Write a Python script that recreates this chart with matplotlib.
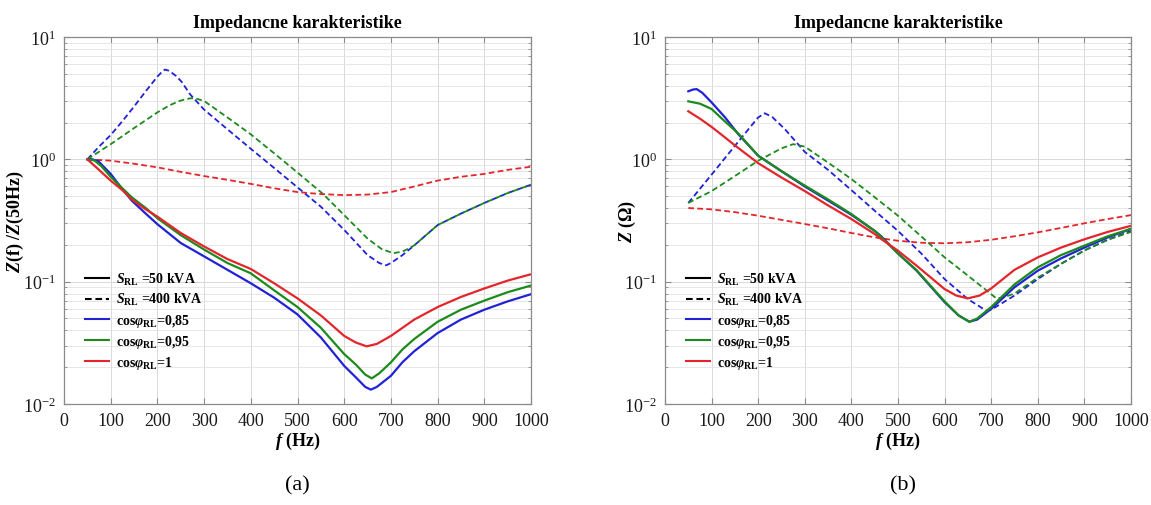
import matplotlib
matplotlib.use("Agg")
import matplotlib.pyplot as plt
from matplotlib.lines import Line2D
from matplotlib.ticker import LogLocator, NullFormatter, FixedLocator

plt.rcParams['font.family'] = ['Liberation Serif', 'DejaVu Serif']
plt.rcParams['mathtext.fontset'] = 'custom'
plt.rcParams['mathtext.rm'] = 'Liberation Serif:bold'
plt.rcParams['mathtext.bf'] = 'Liberation Serif:bold'
plt.rcParams['mathtext.it'] = 'Liberation Serif:italic:bold'
plt.rcParams['axes.unicode_minus'] = False

# ---------------- data : panel (a) normalised impedance ----------------
a_b400_f = [50, 75, 100, 125, 150, 175, 200, 210, 216, 225, 240, 252, 270, 300, 350, 400, 450, 500, 550, 600, 650, 675, 690, 700, 725, 750, 800, 850, 900, 950, 1000]
a_b400_z = [1.0, 1.27, 1.58, 2.05, 2.7, 3.6, 4.75, 5.2, 5.42, 5.3, 4.8, 4.3, 3.4, 2.55, 1.76, 1.22, 0.85, 0.59, 0.41, 0.265, 0.165, 0.142, 0.136, 0.142, 0.165, 0.198, 0.29, 0.36, 0.44, 0.53, 0.62]

a_g400_f = [50, 100, 150, 200, 225, 245, 260, 273, 285, 300, 350, 400, 450, 500, 555, 600, 650, 680, 705, 725, 750, 800, 850, 900, 950, 1000]
a_g400_z = [1.0, 1.33, 1.8, 2.42, 2.75, 2.98, 3.1, 3.16, 3.12, 3.0, 2.2, 1.6, 1.12, 0.78, 0.52, 0.35, 0.225, 0.185, 0.171, 0.176, 0.198, 0.29, 0.36, 0.44, 0.53, 0.62]

a_r400_f = [50, 100, 150, 200, 250, 300, 350, 400, 450, 500, 550, 600, 650, 700, 750, 800, 850, 900, 950, 1000]
a_r400_z = [1.0, 0.975, 0.92, 0.86, 0.79, 0.73, 0.68, 0.63, 0.58, 0.54, 0.52, 0.51, 0.515, 0.54, 0.6, 0.67, 0.72, 0.76, 0.82, 0.87]

a_b50_f = [50, 60, 73, 85, 100, 125, 145, 175, 200, 250, 300, 350, 400, 450, 500, 550, 600, 625, 645, 657, 670, 700, 725, 750, 800, 850, 900, 950, 1000]
a_b50_z = [1.0, 1.0, 0.97, 0.87, 0.76, 0.57, 0.46, 0.36, 0.295, 0.207, 0.161, 0.125, 0.097, 0.074, 0.054, 0.035, 0.0205, 0.0165, 0.0138, 0.0131, 0.0138, 0.017, 0.022, 0.027, 0.038, 0.049, 0.059, 0.069, 0.079]

a_g50_f = [50, 65, 80, 100, 125, 145, 175, 200, 250, 300, 350, 400, 450, 500, 550, 600, 625, 645, 659, 675, 700, 725, 750, 800, 850, 900, 950, 1000]
a_g50_z = [1.0, 0.98, 0.88, 0.72, 0.58, 0.49, 0.4, 0.33, 0.24, 0.183, 0.142, 0.117, 0.085, 0.062, 0.042, 0.0256, 0.021, 0.0174, 0.0162, 0.0178, 0.0219, 0.028, 0.034, 0.047, 0.059, 0.07, 0.082, 0.093]

a_r50_f = [50, 75, 100, 125, 145, 175, 200, 250, 300, 350, 400, 450, 500, 550, 600, 625, 648, 670, 700, 725, 750, 800, 850, 900, 950, 1000]
a_r50_z = [1.0, 0.82, 0.67, 0.56, 0.47, 0.39, 0.34, 0.25, 0.194, 0.153, 0.127, 0.097, 0.073, 0.053, 0.036, 0.0318, 0.0296, 0.031, 0.036, 0.042, 0.049, 0.062, 0.075, 0.088, 0.102, 0.115]

# ---------------- data : panel (b) impedance in ohm ----------------
b_b50_f = [50, 60, 68, 80, 100, 129, 157, 200, 250, 300, 350, 400, 450, 464, 500, 540, 600, 630, 653, 670, 700, 750, 800, 850, 900, 950, 1000]
b_b50_z = [3.6, 3.72, 3.75, 3.5, 2.92, 2.2, 1.61, 1.07, 0.8, 0.6, 0.46, 0.352, 0.26, 0.235, 0.17, 0.123, 0.068, 0.053, 0.047, 0.049, 0.06, 0.09, 0.123, 0.155, 0.19, 0.23, 0.27]

b_g50_f = [50, 75, 100, 125, 157, 200, 250, 300, 350, 400, 450, 464, 500, 540, 600, 630, 653, 670, 700, 750, 800, 850, 900, 950, 1000]
b_g50_z = [2.98, 2.85, 2.58, 2.1, 1.63, 1.07, 0.8, 0.61, 0.47, 0.357, 0.26, 0.232, 0.17, 0.124, 0.069, 0.053, 0.047, 0.05, 0.062, 0.095, 0.131, 0.165, 0.197, 0.235, 0.27]

b_r50_f = [50, 75, 100, 125, 150, 175, 200, 250, 300, 350, 400, 450, 464, 500, 540, 600, 625, 650, 675, 700, 750, 800, 850, 900, 950, 1000]
b_r50_z = [2.47, 2.15, 1.84, 1.55, 1.3, 1.1, 0.93, 0.71, 0.55, 0.42, 0.325, 0.245, 0.223, 0.179, 0.135, 0.087, 0.077, 0.073, 0.077, 0.088, 0.125, 0.158, 0.19, 0.222, 0.255, 0.286]

b_b400_f = [50, 100, 150, 180, 200, 214, 230, 257, 300, 350, 400, 450, 500, 525, 550, 600, 650, 689, 700, 750, 800, 850, 900, 950, 1000]
b_b400_z = [0.44, 0.75, 1.29, 1.78, 2.2, 2.38, 2.22, 1.77, 1.15, 0.82, 0.56, 0.38, 0.26, 0.21, 0.17, 0.105, 0.072, 0.058, 0.059, 0.077, 0.105, 0.14, 0.18, 0.22, 0.26]

b_g400_f = [50, 100, 150, 200, 250, 275, 300, 350, 400, 450, 500, 564, 600, 650, 700, 711, 725, 750, 800, 850, 900, 950, 1000]
b_g400_z = [0.44, 0.55, 0.73, 0.975, 1.23, 1.33, 1.27, 0.94, 0.69, 0.49, 0.346, 0.21, 0.158, 0.112, 0.079, 0.073, 0.074, 0.08, 0.108, 0.14, 0.18, 0.22, 0.255]

b_r400_f = [50, 100, 150, 200, 250, 300, 350, 400, 450, 500, 550, 600, 650, 700, 750, 800, 850, 900, 950, 1000]
b_r400_z = [0.40, 0.39, 0.37, 0.346, 0.32, 0.296, 0.273, 0.25, 0.23, 0.216, 0.208, 0.206, 0.21, 0.22, 0.235, 0.253, 0.275, 0.30, 0.325, 0.35]

x_ticks = [0, 100, 200, 300, 400, 500, 600, 700, 800, 900, 1000]
title_text = "Impedancne karakteristike"
legend_labels = [r'$S_{\mathrm{RL}}$ =50 kVA', r'$S_{\mathrm{RL}}$ =400 kVA',
                 r'cos$\varphi_{\mathrm{RL}}$=0,85', r'cos$\varphi_{\mathrm{RL}}$=0,95',
                 r'cos$\varphi_{\mathrm{RL}}$=1']

C_BLUE = '#2121d6'
C_GREEN = '#1d8a1d'
C_RED = '#e3262b'
DASH = (3.2, 1.8)

fig = plt.figure(figsize=(11.51, 5.06), dpi=100)
ax_a = fig.add_axes([64/1151, 1-405/506, 467/1151, 367/506])
ax_b = fig.add_axes([665/1151, 1-405/506, 466/1151, 367/506])


def style_axes(ax):
    ax.set_yscale('log')
    ax.set_xlim(0, 1000)
    ax.set_ylim(1e-2, 1e1)
    ax.xaxis.set_major_locator(FixedLocator(x_ticks))
    ax.yaxis.set_major_locator(LogLocator(base=10, numticks=10))
    ax.yaxis.set_minor_locator(LogLocator(base=10, subs=range(2, 10), numticks=20))
    ax.yaxis.set_minor_formatter(NullFormatter())
    ax.grid(True, which='major', color='#d9d9d9', lw=0.7)
    ax.grid(True, which='minor', axis='y', color='#e3e3e3', lw=0.6)
    ax.set_axisbelow(True)
    for s in ax.spines.values():
        s.set_color('#8a8a8a')
        s.set_linewidth(0.9)
    ax.tick_params(which='both', direction='in', top=True, right=True,
                   colors='#8a8a8a', labelcolor='#1a1a1a', labelsize=13, pad=6)
    ax.tick_params(which='major', length=4)
    ax.tick_params(which='minor', length=2)
    ax.set_xlabel(r'$\mathit{f}$ (Hz)', fontsize=13, fontweight='bold')
    ax.xaxis.set_label_coords(0.5, -0.071)
    pos = ax.get_position()
    fig.text(pos.x0 + pos.width / 2, 1 - 24/506, title_text, fontsize=13,
             fontweight='bold', ha='center', va='center')


def add_legend(ax):
    handles = [Line2D([], [], color='black', lw=1.5),
               Line2D([], [], color='black', lw=1.5, ls=(0, DASH)),
               Line2D([], [], color=C_BLUE, lw=1.5),
               Line2D([], [], color=C_GREEN, lw=1.5),
               Line2D([], [], color=C_RED, lw=1.5)]
    ax.legend(handles, legend_labels, loc='lower left', bbox_to_anchor=(0.045, 0.09),
              frameon=False, prop={'weight': 'bold', 'size': 10}, handlelength=1.7,
              handletextpad=0.5, labelspacing=0.3, borderpad=0, borderaxespad=0)


# panel (a)
ax_a.plot(a_b400_f, a_b400_z, color=C_BLUE, lw=1.3, ls=(0, DASH))
ax_a.plot(a_g400_f, a_g400_z, color=C_GREEN, lw=1.3, ls=(0, DASH))
ax_a.plot(a_r400_f, a_r400_z, color=C_RED, lw=1.3, ls=(0, DASH))
ax_a.plot(a_b50_f, a_b50_z, color=C_BLUE, lw=1.6)
ax_a.plot(a_g50_f, a_g50_z, color=C_GREEN, lw=1.6)
ax_a.plot(a_r50_f, a_r50_z, color=C_RED, lw=1.6)
style_axes(ax_a)
ax_a.set_ylabel(r'$\mathit{Z}$(f) /$\mathit{Z}$(50Hz)', fontsize=13, fontweight='bold')
ax_a.yaxis.set_label_coords(-0.081, 0.5)
add_legend(ax_a)

# panel (b)
ax_b.plot(b_b400_f, b_b400_z, color=C_BLUE, lw=1.3, ls=(0, DASH))
ax_b.plot(b_g400_f, b_g400_z, color=C_GREEN, lw=1.3, ls=(0, DASH))
ax_b.plot(b_r400_f, b_r400_z, color=C_RED, lw=1.3, ls=(0, DASH))
ax_b.plot(b_b50_f, b_b50_z, color=C_BLUE, lw=1.6)
ax_b.plot(b_g50_f, b_g50_z, color=C_GREEN, lw=1.6)
ax_b.plot(b_r50_f, b_r50_z, color=C_RED, lw=1.6)
style_axes(ax_b)
ax_b.set_ylabel(r'$\mathit{Z}$ (Ω)', fontsize=13, fontweight='bold')
ax_b.yaxis.set_label_coords(-0.058, 0.5)
add_legend(ax_b)

fig.text(297/1151, 1-486/506, '(a)', ha='center', va='center', fontsize=16)
fig.text(903/1151, 1-486/506, '(b)', ha='center', va='center', fontsize=16)

fig.savefig('out.png', dpi=100)
